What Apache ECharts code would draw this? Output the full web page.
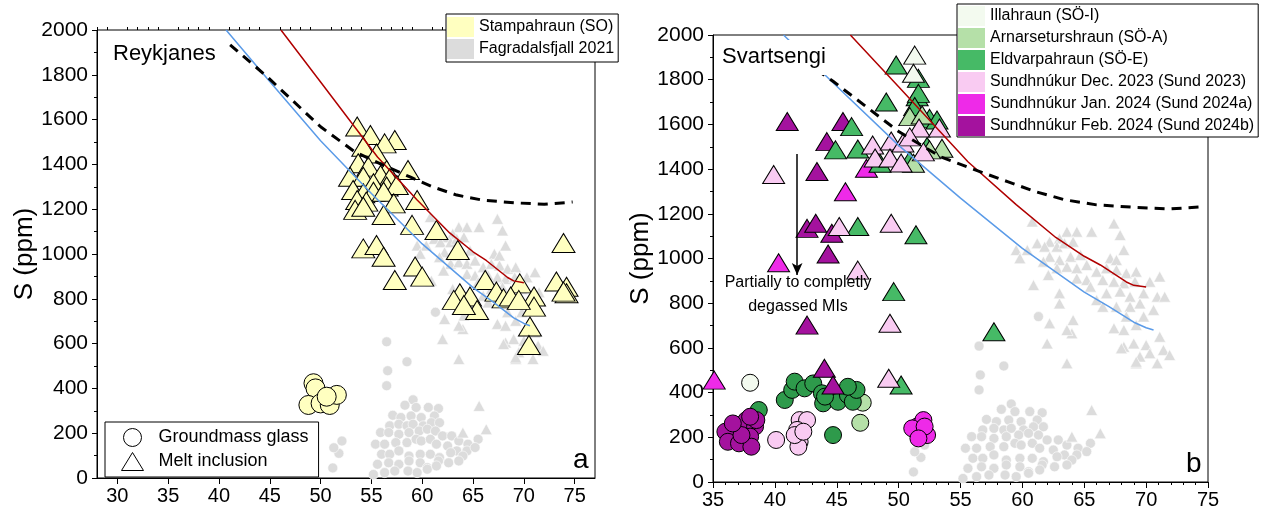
<!DOCTYPE html>
<html>
<head>
<meta charset="utf-8">
<script src="https://cdn.jsdelivr.net/npm/echarts@6/dist/echarts.min.js"></script>
<style>
    html, body { margin: 0; padding: 0; background: #fff; }
    #chart { width: 1263px; height: 514px; }
</style>
</head>
<body>
<div id="chart"></div>
<script>
// ---- data (x axis vs S in ppm) ----
var xTicksLeft = [30, 35, 40, 45, 50, 55, 60, 65, 70, 75];
var xMinorLeft = [28, 29, 31, 32, 33, 34, 36, 37, 38, 39, 41, 42, 43, 44, 46, 47, 48, 49, 51, 52, 53, 54,
    56, 57, 58, 59, 61, 62, 63, 64, 66, 67, 68, 69, 71, 72, 73, 74, 76, 77];

// model curves
var modelRed = [[46.1, 2000], [50, 1768], [55.6, 1433], [59.5, 1241], [62.7, 1094], [65, 1010], [66.3, 971], [68.4, 895], [69, 880], [70, 872]];
var modelBlue = [[40.7, 2000], [44.7, 1786], [50, 1506], [55, 1270], [60, 1045], [65, 850], [67, 785], [69, 715], [70, 690], [70.6, 680]];
var modelDash = [[41.1, 1934], [44.7, 1793], [50, 1568], [53.4, 1455], [56, 1400], [58.8, 1344], [61, 1300], [63.4, 1263], [66, 1240], [69.3, 1228], [72, 1222], [74.8, 1232]];

// Fagradalsfjall 2021 (grey)
var fagGlass = [[59.1, 349], [58.3, 325], [59.4, 315], [60.6, 315], [61.6, 310], [57.1, 280], [57.9, 270], [58.9, 277], [59.9, 270], [61.2, 277],
    [56.8, 233], [57.7, 240], [58.5, 233], [59.1, 240], [60.1, 233], [60.9, 247], [61.7, 247], [55.9, 203], [56.7, 203], [57.7, 195],
    [58.7, 203], [59.7, 210], [60.5, 218], [61.3, 210], [62.0, 188], [62.9, 188], [63.6, 165], [64.5, 151], [65.5, 173], [55.4, 151],
    [56.3, 151], [57.4, 158], [58.5, 158], [59.4, 173], [59.9, 165], [60.8, 173], [61.4, 151], [62.5, 143], [63.4, 121], [64.4, 121],
    [65.2, 136], [56.0, 106], [56.8, 106], [57.7, 121], [58.7, 98], [59.8, 106], [60.8, 106], [61.7, 91], [62.8, 113], [64.0, 98],
    [55.6, 61], [56.7, 68], [57.7, 61], [58.7, 76], [59.8, 68], [60.5, 46], [61.6, 76], [62.6, 68], [63.6, 76], [55.2, 16],
    [56.3, 24], [57.3, 31], [58.6, 31], [59.5, 24], [60.5, 39], [61.4, 54], [56.5, 608], [58.5, 519], [56.6, 479], [56.5, 412],
    [61.3, 740], [51.2, 45], [51.8, 110], [52.1, 165], [51.3, 135]];
var fagMI = [[60.8, 1165], [63.6, 1120], [64.4, 1120], [65.6, 1120], [67.4, 1157], [67.9, 1105], [63.0, 1090], [62.2, 1075], [61.2, 1068], [61.8, 1053],
    [59.5, 1038], [60.4, 1038], [62.8, 1053], [63.4, 1068], [64.1, 1075], [59.8, 1001], [62.2, 1008], [63.0, 993], [63.9, 1008], [64.7, 1016],
    [68.2, 1038], [61.7, 986], [62.8, 956], [63.6, 963], [64.4, 956], [65.2, 971], [66.0, 941], [67.1, 1001], [67.6, 993], [66.8, 956],
    [67.6, 949], [68.4, 934], [69.2, 941], [70.3, 896], [71.1, 919], [66.5, 904], [67.4, 896], [68.2, 889], [69.1, 896], [60.9, 881],
    [62.1, 926], [64.4, 911], [65.2, 904], [65.5, 874], [63.0, 844], [66.0, 814], [66.8, 844], [67.9, 852], [68.7, 829], [69.8, 844],
    [70.9, 829], [71.5, 829], [63.0, 799], [66.5, 784], [67.6, 784], [68.7, 784], [69.5, 799], [70.6, 770], [64.1, 725], [62.2, 710],
    [68.4, 740], [69.8, 740], [69.2, 702], [67.4, 688], [68.2, 680], [64.0, 665], [63.6, 680], [62.0, 620], [68.2, 605], [69.0, 620],
    [70.0, 613], [71.1, 650], [70.3, 576], [71.4, 591], [71.9, 568], [69.5, 561], [63.6, 531], [70.9, 531], [69.2, 531], [65.6, 322],
    [66.3, 218], [64.0, 203], [68.0, 598], [69.2, 538]];

// Reykjanes: Stampahraun (SO)
var soGlass = [[49.3, 423], [49.5, 400], [48.8, 326], [50.0, 333], [50.9, 326], [51.6, 371], [50.6, 363]];
var soMI = [[53.6, 1569], [54.9, 1531], [57.3, 1509], [56.3, 1494], [54.2, 1479], [55.5, 1449], [53.7, 1405], [54.7, 1390], [58.6, 1375], [56.5, 1375],
    [52.9, 1345], [54.2, 1345], [55.9, 1353], [56.8, 1338], [55.2, 1316], [56.5, 1301], [57.5, 1308], [53.2, 1286], [54.2, 1271], [55.2, 1278],
    [56.2, 1278], [59.5, 1241], [57.2, 1226], [53.6, 1241], [54.5, 1234], [53.4, 1197], [56.2, 1174], [54.2, 1211], [59.0, 1130], [61.4, 1107],
    [54.2, 1025], [55.5, 1040], [56.2, 988], [59.3, 944], [60.0, 899], [57.3, 884], [63.5, 1018], [73.9, 1049], [66.2, 884], [69.6, 869],
    [73.2, 877], [74.2, 854], [74.2, 825], [73.9, 832], [63.7, 825], [63.1, 795], [64.7, 810], [67.3, 832], [68.0, 802], [68.7, 810],
    [71.0, 810], [71.0, 765], [65.4, 750], [70.6, 676], [70.5, 594], [69.5, 795], [64.1, 772]];

// Svartsengi groups
var illGlass = [[38.0, 444]];
var illMI = [[51.3, 1910], [51.2, 1829]];
var arnGlass = [[47.1, 355], [46.9, 265]];
var arnMI = [[50.9, 1635], [51.9, 1642], [53.5, 1493], [51.2, 1426], [52.5, 1486]];
var eldGlass = [[38.7, 322], [40.8, 367], [41.4, 412], [41.6, 449], [42.4, 419], [43.1, 441], [43.8, 397], [43.9, 352], [44.7, 210], [45.0, 374],
    [45.1, 359], [45.9, 389], [46.3, 359], [46.6, 412], [45.9, 426], [44.05, 382]];
var eldMI = [[49.8, 1866], [51.6, 1806], [51.5, 1724], [49.0, 1700], [51.6, 1739], [46.7, 1490], [44.9, 1486], [46.2, 1590], [46.7, 1143], [51.4, 1106],
    [49.6, 852], [50.2, 434], [57.7, 672], [52.5, 1627], [53.1, 1620], [52.3, 1501], [48.5, 1426], [50.9, 1440], [51.3, 1680]];
var s23Glass = [[40.1, 188], [42.0, 277], [42.6, 277], [41.8, 233], [42.0, 180], [41.9, 158], [41.6, 210], [42.3, 225]];
var s23MI = [[47.9, 1508], [49.4, 1526], [50.35, 1517], [51.65, 1584], [53.3, 1584], [48.1, 1450], [49.3, 1450], [50.2, 1427], [52.0, 1477], [50.9, 1544],
    [39.9, 1376], [45.2, 1143], [49.4, 1158], [46.7, 948], [49.3, 710], [49.2, 464]];
var s24aGlass = [[51.5, 248], [52.0, 277], [51.7, 225], [51.1, 240], [52.3, 210], [52.1, 248], [51.6, 195]];
var s24aMI = [[47.4, 1404], [45.7, 1299], [40.3, 981], [35.1, 456]];
var s24bGlass = [[36.0, 225], [36.2, 180], [37.1, 173], [37.2, 255], [37.7, 277], [38.4, 248], [38.0, 203], [38.1, 158], [37.3, 210], [36.6, 262],
    [38.5, 277], [38.0, 292]];
var s24bMI = [[41.0, 1613], [45.5, 1613], [44.2, 1523], [43.4, 1389], [42.6, 1135], [43.3, 1158], [44.6, 1113], [44.3, 1020], [42.6, 702], [44.0, 509],
    [44.7, 434]];

// ---- chart ----
var FONT = "'Liberation Sans', Arial, sans-serif";
var cYellow = '#FFFFC0', cGrey = '#DCDCDC';
var cIll = '#F3FAEF', cArn = '#B5E0A8', cEld = '#46BA66', cEldDark = '#2E9A4B';
var c23 = '#F9CBF2', c24a = '#EE2AE8', c24b = '#A4129E';

var myChart = echarts.init(document.getElementById('chart'));

function yAx(grid) {
    return {
        type: 'value', gridIndex: grid, min: 0, max: 2000, interval: 200,
        name: 'S (ppm)', nameLocation: 'middle', nameGap: 58,
        nameTextStyle: { fontSize: 26, color: '#000', fontFamily: FONT },
        axisLine: { show: true, lineStyle: { color: '#000', width: 1 } },
        axisTick: { show: true, length: 5, lineStyle: { color: '#000' } },
        minorTick: { show: true, splitNumber: 2, length: 3, lineStyle: { color: '#000' } },
        axisLabel: {
            fontSize: 21, color: '#000', fontFamily: FONT, margin: 9,
            formatter: function(v) { return String(v); }
        },
        splitLine: { show: false }
    };
}

function pts(name, data, grid, symbol, size, color, border) {
    return {
        name: name, type: 'scatter', xAxisIndex: grid === 0 ? 0 : 2, yAxisIndex: grid,
        symbol: symbol, symbolSize: size, data: data, z: 2,
        itemStyle: { color: color, borderColor: border || '#000', borderWidth: border ? 0.6 : 1, opacity: 1 },
        emphasis: { disabled: true }
    };
}

function model(data, grid, color, width, type) {
    return {
        type: 'line', xAxisIndex: grid === 0 ? 0 : 2, yAxisIndex: grid, data: data,
        showSymbol: false, symbol: 'none', silent: true, z: 5, clip: true,
        lineStyle: { color: color, width: width, type: type }
    };
}

var option = {
    animation: false,
    textStyle: { fontFamily: FONT },
    grid: [
        { left: 97, top: 30, width: 498, height: 448, show: true, borderColor: '#000', borderWidth: 1 },
        { left: 713, top: 35, width: 495, height: 447, show: true, borderColor: '#000', borderWidth: 1 }
    ],
    xAxis: [
        {
            type: 'value', gridIndex: 0, min: 28, max: 77,
            axisLine: { show: true, onZero: false, lineStyle: { color: '#000' } },
            axisTick: { show: true, length: 6, customValues: xTicksLeft, lineStyle: { color: '#000' } },
            axisLabel: { customValues: xTicksLeft, fontSize: 20, color: '#000', fontFamily: FONT, margin: 8 },
            splitLine: { show: false }
        },
        {
            type: 'value', gridIndex: 0, min: 28, max: 77,
            axisLine: { show: false, onZero: false },
            axisTick: { show: true, length: 3, customValues: xMinorLeft, lineStyle: { color: '#000' } },
            axisLabel: { show: false },
            splitLine: { show: false }
        },
        {
            type: 'value', gridIndex: 1, min: 35, max: 75, interval: 5,
            axisLine: { show: true, onZero: false, lineStyle: { color: '#000' } },
            axisTick: { show: true, length: 6, lineStyle: { color: '#000' } },
            minorTick: { show: true, splitNumber: 5, length: 3, lineStyle: { color: '#000' } },
            axisLabel: { fontSize: 20, color: '#000', fontFamily: FONT, margin: 8 },
            splitLine: { show: false }
        }
    ],
    yAxis: [yAx(0), yAx(1)],
    legend: [
        {
            left: 446, top: 14, orient: 'vertical', selectedMode: false,
            backgroundColor: '#fff', borderColor: '#000', borderWidth: 1,
            padding: [3, 4, 3, 1], itemWidth: 27, itemHeight: 20, itemGap: 2,
            textStyle: { fontSize: 16, color: '#000', fontFamily: FONT },
            data: [
                { name: 'Stampahraun (SO)', icon: 'rect', itemStyle: { color: cYellow, borderWidth: 0 } },
                { name: 'Fagradalsfjall 2021', icon: 'rect', itemStyle: { color: cGrey, borderWidth: 0 } }
            ]
        },
        {
            left: 957, top: 4, orient: 'vertical', selectedMode: false,
            backgroundColor: '#fff', borderColor: '#000', borderWidth: 1,
            padding: [2, 4, 1, 1], itemWidth: 27, itemHeight: 20, itemGap: 2,
            textStyle: { fontSize: 16, color: '#000', fontFamily: FONT },
            data: [
                { name: 'Illahraun (SÖ-I)', icon: 'rect', itemStyle: { color: cIll, borderWidth: 0 } },
                { name: 'Arnarseturshraun (SÖ-A)', icon: 'rect', itemStyle: { color: cArn, borderWidth: 0 } },
                { name: 'Eldvarpahraun (SÖ-E)', icon: 'rect', itemStyle: { color: cEld, borderWidth: 0 } },
                { name: 'Sundhnúkur Dec. 2023 (Sund 2023)', icon: 'rect', itemStyle: { color: c23, borderWidth: 0 } },
                { name: 'Sundhnúkur Jan. 2024 (Sund 2024a)', icon: 'rect', itemStyle: { color: c24a, borderWidth: 0 } },
                { name: 'Sundhnúkur Feb. 2024 (Sund 2024b)', icon: 'rect', itemStyle: { color: c24b, borderWidth: 0 } }
            ]
        },
        {
            left: 105, top: 422, orient: 'vertical', selectedMode: false,
            backgroundColor: '#fff', borderColor: '#000', borderWidth: 1,
            padding: [6, 10, 6, 16], itemWidth: 22, itemHeight: 18, itemGap: 5,
            textStyle: { fontSize: 18, color: '#000', fontFamily: FONT, padding: [0, 0, 0, 10] },
            data: [
                { name: 'Groundmass glass', icon: 'circle', itemStyle: { color: '#fff', borderColor: '#000', borderWidth: 1 } },
                { name: 'Melt inclusion', icon: 'triangle', itemStyle: { color: '#fff', borderColor: '#000', borderWidth: 1 } }
            ]
        }
    ],
    graphic: [
        { type: 'text', left: 113, top: 43, z: 100, style: { text: 'Reykjanes', font: '22px ' + FONT, fill: '#000' } },
        { type: 'text', left: 720, top: 40, z: 100, style: { text: 'Svartsengi', font: '22px ' + FONT, fill: '#000', backgroundColor: '#fff', padding: [6, 10, 7, 2] } },
        { type: 'text', left: 573, top: 446, z: 100, style: { text: 'a', font: '28px ' + FONT, fill: '#000' } },
        { type: 'text', left: 1186, top: 450, z: 100, style: { text: 'b', font: '28px ' + FONT, fill: '#000' } }
    ],
    series: [
        // left panel
        pts('Fagradalsfjall 2021', fagGlass, 0, 'circle', 10, cGrey, '#fff'),
        pts('Fagradalsfjall 2021', fagMI, 0, 'triangle', [12, 11], cGrey, '#fff'),
        pts('Stampahraun (SO)', soGlass, 0, 'circle', 19, cYellow),
        pts('Stampahraun (SO)', soMI, 0, 'triangle', [23, 19], cYellow),
        pts('Groundmass glass', [], 0, 'circle', 18, '#fff'),
        pts('Melt inclusion', [], 0, 'triangle', [22, 18], '#fff'),
        model(modelBlue, 0, '#5B9BE8', 1.5, 'solid'),
        model(modelRed, 0, '#B00000', 1.5, 'solid'),
        model(modelDash, 0, '#000', 3, [10, 7]),
        // right panel
        pts('Fagradalsfjall 2021', fagGlass, 1, 'circle', 10, cGrey, '#fff'),
        pts('Fagradalsfjall 2021', fagMI, 1, 'triangle', [12, 11], cGrey, '#fff'),
        pts('Illahraun (SÖ-I)', illGlass, 1, 'circle', 17, cIll),
        pts('Arnarseturshraun (SÖ-A)', arnGlass, 1, 'circle', 17, cArn),
        pts('Eldvarpahraun (SÖ-E)', eldGlass, 1, 'circle', 17, cEldDark),
        pts('Sundhnúkur Dec. 2023 (Sund 2023)', s23Glass, 1, 'circle', 17, c23),
        pts('Sundhnúkur Jan. 2024 (Sund 2024a)', s24aGlass, 1, 'circle', 17, c24a),
        pts('Sundhnúkur Feb. 2024 (Sund 2024b)', s24bGlass, 1, 'circle', 17, c24b),
        pts('Sundhnúkur Feb. 2024 (Sund 2024b)', s24bMI, 1, 'triangle', [22, 18], c24b),
        pts('Sundhnúkur Jan. 2024 (Sund 2024a)', s24aMI, 1, 'triangle', [22, 18], c24a),
        pts('Eldvarpahraun (SÖ-E)', eldMI, 1, 'triangle', [22, 18], cEld),
        pts('Arnarseturshraun (SÖ-A)', arnMI, 1, 'triangle', [22, 18], cArn),
        pts('Sundhnúkur Dec. 2023 (Sund 2023)', s23MI, 1, 'triangle', [22, 18], c23),
        pts('Illahraun (SÖ-I)', illMI, 1, 'triangle', [22, 18], cIll),
        model(modelBlue, 1, '#5B9BE8', 1.5, 'solid'),
        model(modelRed, 1, '#B00000', 1.5, 'solid'),
        model(modelDash, 1, '#000', 3, [10, 7]),
        {
            type: 'scatter', xAxisIndex: 2, yAxisIndex: 1, data: [], silent: true,
            markLine: {
                silent: true, symbol: ['none', 'arrow'], symbolSize: [8, 12],
                lineStyle: { color: '#000', width: 1.5, type: 'solid' },
                label: { show: false },
                data: [[{ coord: [41.8, 1468] }, { coord: [41.8, 926] }]]
            },
            markPoint: {
                silent: true, symbol: 'circle', symbolSize: 0,
                itemStyle: { color: 'transparent' },
                label: {
                    show: true, position: 'inside', fontSize: 16, lineHeight: 24, color: '#000', fontFamily: FONT,
                    formatter: 'Partially to completly\ndegassed MIs'
                },
                data: [{ coord: [41.87, 837] }]
            }
        }
    ]
};
myChart.setOption(option);

window.onresize = function() {
    myChart.resize();
};
</script>
</body>
</html>
